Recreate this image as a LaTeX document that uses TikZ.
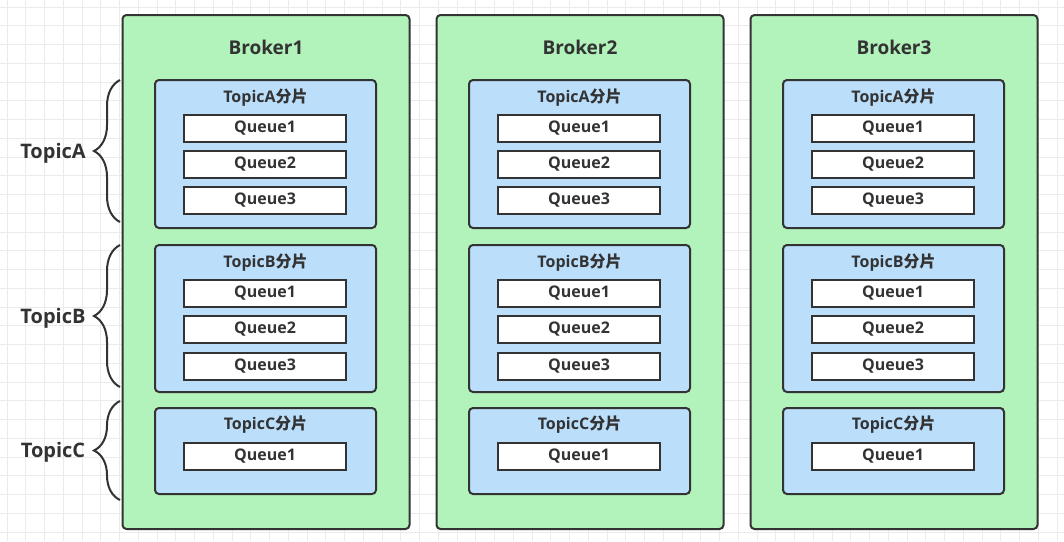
\documentclass[tikz,border=0pt]{standalone}
\usepackage{fontspec}
\setmainfont{Open Sans}
\newfontfamily\cjk{Noto Sans CJK SC}
\usetikzlibrary{decorations.pathreplacing}
\definecolor{ink}{HTML}{333333}
\definecolor{gridc}{HTML}{EBEBEB}
\definecolor{brokerfill}{HTML}{B2F2BB}
\definecolor{topicfill}{HTML}{BBDEFB}
\tikzset{
  brokerbox/.style={draw=ink, line width=2pt, fill=brokerfill, rounded corners=4pt, minimum width=287pt, minimum height=514pt, inner sep=0pt},
  topicbox/.style={draw=ink, line width=2pt, fill=topicfill, rounded corners=4pt, minimum width=221pt, inner sep=0pt},
  queuebox/.style={draw=ink, line width=2pt, fill=white, minimum width=162pt, minimum height=27pt, inner sep=0pt, font=\fontsize{16}{16}\selectfont\bfseries, text=ink},
  brokertitle/.style={font=\fontsize{19}{19}\selectfont\bfseries, text=ink, inner sep=0pt},
  topictitle/.style={font=\fontsize{16}{16}\selectfont\bfseries, text=ink, inner sep=0pt},
  sidelabel/.style={font=\fontsize{20}{20}\selectfont\bfseries, text=ink, inner sep=0pt},
  bracestyle/.style={draw=ink, line width=2pt, decorate, decoration={brace, amplitude=26pt}}
}
\begin{document}
\begin{tikzpicture}[x=1pt, y=-1pt]
\useasboundingbox (0,0) rectangle (1064,541);
\fill[white] (0,0) rectangle (1064,541);
\foreach \g in {0,...,56} {
  \draw[gridc, line width=1pt] (7+\g*18.75,0) -- (7+\g*18.75,541);
  \draw[gridc, line width=1pt] (0,7+\g*18.75) -- (1064,7+\g*18.75);
}
\foreach \i/\dx in {1/0, 2/314, 3/628} {
  \node[brokerbox] (b\i) at (266+\dx, 272) {};
  \node[brokertitle] (bt\i) at (266+\dx, 47) {Broker\i};
  % TopicA
  \node[topicbox, minimum height=148pt] (ta\i) at (265.5+\dx, 154) {};
  \node[topictitle] (tat\i) at (265.5+\dx, 98) {TopicA{\cjk 分片}};
  \node[queuebox] (taq1\i) at (265+\dx, 128) {Queue1};
  \node[queuebox] (taq2\i) at (265+\dx, 164.5) {Queue2};
  \node[queuebox] (taq3\i) at (265+\dx, 200.5) {Queue3};
  % TopicB
  \node[topicbox, minimum height=147pt] (tb\i) at (265.5+\dx, 318.5) {};
  \node[topictitle] (tbt\i) at (265.5+\dx, 263) {TopicB{\cjk 分片}};
  \node[queuebox] (tbq1\i) at (265+\dx, 293) {Queue1};
  \node[queuebox] (tbq2\i) at (265+\dx, 329.5) {Queue2};
  \node[queuebox] (tbq3\i) at (265+\dx, 366) {Queue3};
  % TopicC
  \node[topicbox, minimum height=86pt] (tc\i) at (265.5+\dx, 451) {};
  \node[topictitle] (tct\i) at (265.5+\dx, 425) {TopicC{\cjk 分片}};
  \node[queuebox] (tcq1\i) at (265+\dx, 456) {Queue1};
}
% braces
\draw[bracestyle] (120,222) -- (120,80);
\draw[bracestyle] (120,387) -- (120,245);
\draw[bracestyle] (120,500) -- (120,401);
\node[sidelabel] (la) at (53,153) {TopicA};
\node[sidelabel] (lb) at (53,318) {TopicB};
\node[sidelabel] (lc) at (53,452) {TopicC};
\end{tikzpicture}
\end{document}
